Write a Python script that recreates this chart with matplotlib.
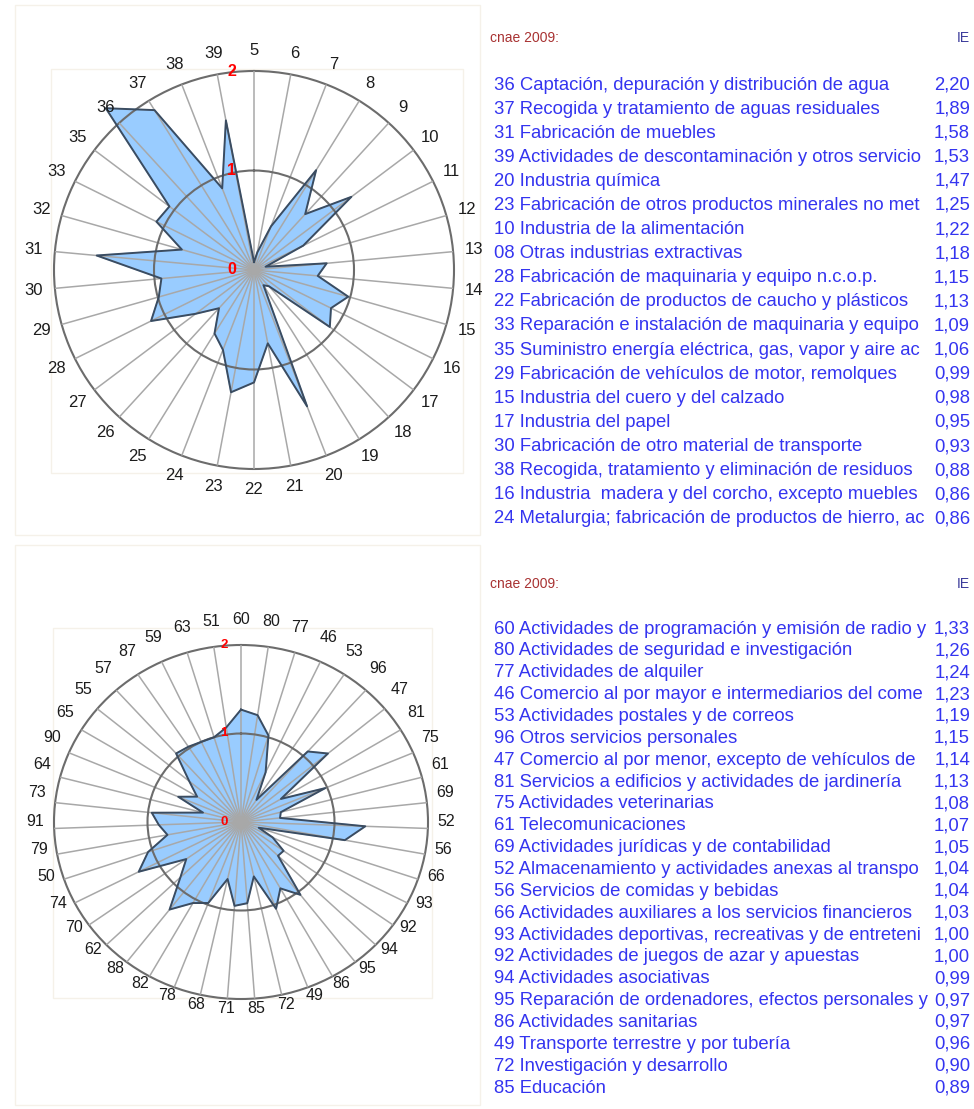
import numpy as np
import matplotlib
matplotlib.use('Agg')
import matplotlib.pyplot as plt
from matplotlib.patches import Rectangle

plt.rcParams['font.family'] = ['Liberation Sans', 'DejaVu Sans']

W, H = 974, 1109

# ── Data: top radar (industry, cnae codes 05-39) ─────────────────────────────
codes_top = ['5', '6', '7', '8', '9', '10', '11', '12', '13', '14', '15', '16',
             '17', '18', '19', '20', '21', '22', '23', '24', '25', '26', '27',
             '28', '29', '30', '31', '32', '33', '35', '36', '37', '38', '39']
vals_top = [0.08, 0.18, 0.47, 1.18, 0.76, 1.22, 0.55, 0.12, 0.73, 0.64, 0.98, 0.86,
            0.95, 0.22, 0.18, 1.47, 0.75, 1.13, 1.25, 0.86, 0.75, 0.52, 0.73,
            1.15, 0.99, 0.93, 1.58, 0.75, 1.09, 1.06, 2.20, 1.89, 0.88, 1.53]

# ── Data: bottom radar (services) ────────────────────────────────────────────
codes_bot = ['60', '80', '77', '46', '53', '96', '47', '81', '75', '61', '69', '52',
             '56', '66', '93', '92', '94', '95', '86', '49', '72', '85', '71', '68',
             '78', '82', '88', '62', '70', '74', '50', '79', '91', '73', '64', '90',
             '65', '55', '57', '87', '59', '63', '51']
vals_bot = [1.27, 1.22, 1.02, 0.62, 0.30, 1.07, 1.21, 0.50, 0.98, 0.44, 0.42, 1.33,
            1.13, 0.20, 0.38, 0.56, 0.55, 1.04, 0.86, 1.05, 0.63, 0.92, 0.95, 0.66,
            0.98, 1.05, 1.25, 0.90, 0.72, 1.23, 1.05, 0.80, 0.88, 0.96, 0.42, 0.73,
            0.55, 0.72, 1.04, 1.02, 1.00, 1.00, 1.08]

# ── Data: ranking tables (names as cut in the source cells) ──────────────────
names_top = [
    '36 Captación, depuración y distribución de agua',
    '37 Recogida y tratamiento de aguas residuales',
    '31 Fabricación de muebles',
    '39 Actividades de descontaminación y otros servicio',
    '20 Industria química',
    '23 Fabricación de otros productos minerales no met',
    '10 Industria de la alimentación',
    '08 Otras industrias extractivas',
    '28 Fabricación de maquinaria y equipo n.c.o.p.',
    '22 Fabricación de productos de caucho y plásticos',
    '33 Reparación e instalación de maquinaria y equipo',
    '35 Suministro energía eléctrica, gas, vapor y aire ac',
    '29 Fabricación de vehículos de motor, remolques',
    '15 Industria del cuero y del calzado',
    '17 Industria del papel',
    '30 Fabricación de otro material de transporte',
    '38 Recogida, tratamiento y eliminación de residuos',
    '16 Industria  madera y del corcho, excepto muebles',
    '24 Metalurgia; fabricación de productos de hierro, ac',
]
ie_top = [2.20, 1.89, 1.58, 1.53, 1.47, 1.25, 1.22, 1.18, 1.15, 1.13, 1.09, 1.06,
          0.99, 0.98, 0.95, 0.93, 0.88, 0.86, 0.86]

names_bot = [
    '60 Actividades de programación y emisión de radio y',
    '80 Actividades de seguridad e investigación',
    '77 Actividades de alquiler',
    '46 Comercio al por mayor e intermediarios del come',
    '53 Actividades postales y de correos',
    '96 Otros servicios personales',
    '47 Comercio al por menor, excepto de vehículos de',
    '81 Servicios a edificios y actividades de jardinería',
    '75 Actividades veterinarias',
    '61 Telecomunicaciones',
    '69 Actividades jurídicas y de contabilidad',
    '52 Almacenamiento y actividades anexas al transpo',
    '56 Servicios de comidas y bebidas',
    '66 Actividades auxiliares a los servicios financieros',
    '93 Actividades deportivas, recreativas y de entreteni',
    '92 Actividades de juegos de azar y apuestas',
    '94 Actividades asociativas',
    '95 Reparación de ordenadores, efectos personales y',
    '86 Actividades sanitarias',
    '49 Transporte terrestre y por tubería',
    '72 Investigación y desarrollo',
    '85 Educación',
]
ie_bot = [1.33, 1.26, 1.24, 1.23, 1.19, 1.15, 1.14, 1.13, 1.08, 1.07, 1.05, 1.04,
          1.04, 1.03, 1.00, 1.00, 0.99, 0.97, 0.97, 0.96, 0.90, 0.89]

TXT_BLUE = '#3434f0'
HEAD_RED = '#a83232'


def px_rect(x0, y0, x1, y1):
    return [x0 / W, 1 - y1 / H, (x1 - x0) / W, (y1 - y0) / H]


def radar(rect, codes, vals, lab_r, lab_dy, lab_size, red_size, red_dx):
    ax = fig.add_axes(rect, projection='polar')
    ax.set_aspect('auto')
    ax.set_theta_zero_location('N')
    ax.set_theta_direction(-1)
    theta = np.arange(len(codes)) * 2 * np.pi / len(codes)
    ax.set_ylim(0, 2)
    ax.set_xticks(theta)
    ax.set_xticklabels([])
    ax.set_yticks([1])
    ax.set_yticklabels([])
    ax.tick_params(length=0)
    ax.xaxis.grid(True, color='#a8a8a8', lw=1.1)
    ax.yaxis.grid(True, color='#6c6c6c', lw=1.5)
    ax.set_axisbelow(False)
    ax.spines['polar'].set_color('#6c6c6c')
    ax.spines['polar'].set_linewidth(1.5)

    tt = np.append(theta, theta[0])
    vv = np.append(vals, vals[0])
    ax.fill(tt, vv, color='#99ccff', zorder=1, clip_on=False)
    ax.plot(tt, vv, color='#3b4c60', lw=1.4, zorder=3, clip_on=False)

    for t, c in zip(theta, codes):
        ax.annotate(c, xy=(t, lab_r), xytext=(0, lab_dy), textcoords='offset pixels',
                    ha='center', va='center', fontsize=lab_size, color='#1c1c1c',
                    annotation_clip=False)
    for r in (0, 1, 2):
        ax.annotate(str(r), xy=(0, r), xytext=(red_dx, 0), textcoords='offset pixels',
                    ha='center', va='center', color='red', fontweight='bold',
                    fontsize=red_size, zorder=5)
    return ax


fig = plt.figure(figsize=(W / 100, H / 100), dpi=100)

# ── Tables ───────────────────────────────────────────────────────────────────
ax_txt = fig.add_axes([0, 0, 1, 1])
ax_txt.set_xlim(0, W)
ax_txt.set_ylim(H, 0)
ax_txt.axis('off')

for y_head, y0, step, names, ies in [(38, 85, 24.1, names_top, ie_top),
                                    (584, 629, 21.86, names_bot, ie_bot)]:
    ax_txt.text(490, y_head, 'cnae 2009:', color=HEAD_RED, fontsize=10,
                ha='left', va='center')
    ax_txt.text(970, y_head, 'IE', color='#3a3a9a', fontsize=10,
                ha='right', va='center')
    for i, (nm, v) in enumerate(zip(names, ies)):
        y = y0 + i * step
        ax_txt.text(494, y, nm, color=TXT_BLUE, fontsize=13.3, ha='left', va='center')
        ax_txt.text(970, y, f'{v:.2f}'.replace('.', ','), color=TXT_BLUE,
                    fontsize=13.3, ha='right', va='center')

# faint panel frames
for x0, y0, x1, y1 in [(15, 5, 480, 535), (51, 69, 463, 473),
                       (15, 545, 480, 1105), (53, 628, 432, 998)]:
    ax_txt.add_patch(Rectangle((x0, y0), x1 - x0, y1 - y0, fill=False,
                               edgecolor='#f5f1e9', lw=1))

# ── Radars ───────────────────────────────────────────────────────────────────
radar(px_rect(54, 71, 454, 469), codes_top, vals_top, 2.21, 0, 12, 11.5, -22)
radar(px_rect(54, 645, 428, 999), codes_bot, vals_bot, 2.2, 8, 11.5, 9.5, -17)

fig.savefig('out.png', dpi=100)
